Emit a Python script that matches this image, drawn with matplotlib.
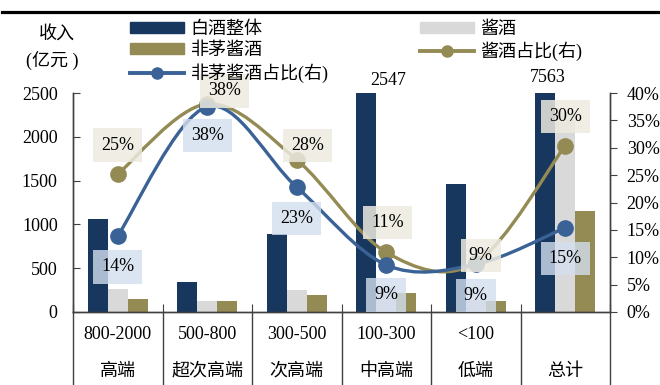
import numpy as np
import matplotlib
matplotlib.use("Agg")
import matplotlib.pyplot as plt
from matplotlib.path import Path
from matplotlib.patches import PathPatch, Patch
from matplotlib.lines import Line2D

plt.rcParams["font.family"] = ["Liberation Serif", "Noto Sans CJK SC"]
plt.rcParams["font.size"] = 13

# 价格带（元）与档位
price_bands = ["800-2000", "500-800", "300-500", "100-300", "<100", ""]
tier_names = ["高端", "超次高端", "次高端", "中高端", "低端", "总计"]

# 收入（亿元）
baijiu_total = [1060, 340, 887, 2547, 1465, 7563]
jiangjiu = [265, 130, 248, 280, 132, 2270]
non_maotai = [148, 128, 197, 215, 128, 1150]

# 占比（%）
jiang_share = [25.2, 38.0, 27.8, 10.9, 9.0, 30.4]
non_maotai_share = [13.9, 37.5, 22.8, 8.6, 8.7, 15.4]

NAVY = "#17375E"
GRAY = "#D9D9D9"
OLIVE = "#948A54"
BLUE = "#3A6296"
AXIS = "#404040"


def smooth_path(xs, ys):
    # Catmull-Rom -> cubic bezier, same as a "smoothed line" in office charts
    pts = np.column_stack([xs, ys]).astype(float)
    ext = np.vstack([pts[0], pts, pts[-1]])
    verts = [pts[0]]
    codes = [Path.MOVETO]
    for i in range(len(pts) - 1):
        p0, p1, p2, p3 = ext[i], ext[i + 1], ext[i + 2], ext[i + 3]
        verts += [p1 + (p2 - p0) / 6.0, p2 - (p3 - p1) / 6.0, p2]
        codes += [Path.CURVE4] * 3
    return Path(verts, codes)


fig = plt.figure(figsize=(6.6, 3.85), dpi=100)
ax = fig.add_axes([73 / 660, 1 - 312 / 385, 537 / 660, 219 / 385])
ax2 = ax.twinx()

x = np.arange(len(baijiu_total))
w = 0.224
ax.bar(x - w, baijiu_total, w, color=NAVY, zorder=2)
ax.bar(x, jiangjiu, w, color=GRAY, zorder=2)
ax.bar(x + w, non_maotai, w, color=OLIVE, zorder=2)

ax.set_xlim(-0.5, len(x) - 0.5)
ax.set_ylim(0, 2500)
ax.set_yticks(np.arange(0, 2501, 500))
ax2.set_ylim(0, 40)
ax2.set_yticks(np.arange(0, 41, 5))
ax2.set_yticklabels([f"{v}%" for v in range(0, 41, 5)])

for a in (ax, ax2):
    a.spines["top"].set_visible(False)
    for s in ("left", "right", "bottom"):
        a.spines[s].set_color(AXIS)
        a.spines[s].set_linewidth(1.0)
ax.tick_params(axis="y", direction="in", length=5, pad=11, color=AXIS)
ax2.tick_params(axis="y", direction="out", length=5, pad=7, color=AXIS)
ax.set_xticks(np.arange(-0.5, len(x), 1.0))
ax.tick_params(axis="x", direction="in", length=6, color=AXIS, labelbottom=False)

# 底部分类表格
xt = ax.get_xaxis_transform()
for b in np.arange(-0.5, len(x), 1.0):
    ax.plot([b, b], [0, -0.34], transform=xt, color=AXIS, lw=1.0, clip_on=False)
for i in x:
    ax.text(i, -0.105, price_bands[i], transform=xt, ha="center", va="center")
    ax.text(i, -0.27, tier_names[i], transform=xt, ha="center", va="center")

# 平滑折线
ax2.add_patch(PathPatch(smooth_path(x, jiang_share), fill=False, ec=OLIVE, lw=2.4, zorder=3))
ax2.add_patch(PathPatch(smooth_path(x, non_maotai_share), fill=False, ec=BLUE, lw=2.4, zorder=3))
ax2.plot(x, jiang_share, "o", color=OLIVE, ms=11, zorder=4)
ax2.plot(x, non_maotai_share, "o", color=BLUE, ms=11, zorder=4)

# 数据标签偏移（像素）
jiang_offsets = [(0, 29), (17, 13), (11, 14), (1, 30), (5, 7), (0, 29)]
non_maotai_offsets = [(0, -31), (0, -29), (0, -31), (0, -30), (0, -31), (0, -31)]

for i, v in enumerate(jiang_share):
    ax2.annotate(f"{v:.0f}%", (x[i], v), xytext=jiang_offsets[i], textcoords="offset pixels",
                 ha="center", va="center", zorder=6, annotation_clip=False,
                 bbox=dict(boxstyle="square,pad=0.45", fc="#EDEAE0", ec="none", alpha=0.85))
for i, v in enumerate(non_maotai_share):
    ax2.annotate(f"{v:.0f}%", (x[i], v), xytext=non_maotai_offsets[i], textcoords="offset pixels",
                 ha="center", va="center", zorder=6, annotation_clip=False,
                 bbox=dict(boxstyle="square,pad=0.45", fc="#D3DFEE", ec="none", alpha=0.8))

# 超出坐标范围的柱子标注数值
top_offsets = {3: (2, 13), 5: (-17, 16)}
for i, v in enumerate(baijiu_total):
    if v > 2500:
        dx, dy = top_offsets[i]
        ax.annotate(f"{v}", (x[i], 2500), xytext=(dx, dy), textcoords="offset pixels",
                    ha="center", va="center", annotation_clip=False)

fig.text(57 / 660, 1 - 34 / 385, "收入", ha="center", va="center")
fig.text(52 / 660, 1 - 60 / 385, "(亿元 )", ha="center", va="center")

h_total = Patch(color=NAVY)
h_jiang = Patch(color=GRAY)
h_nm = Patch(color=OLIVE)
h_jiang_share = Line2D([], [], color=OLIVE, lw=2.8, marker="o", ms=8)
h_nm_share = Line2D([], [], color=BLUE, lw=2.8, marker="o", ms=8)

leg_kw = dict(frameon=False, loc="upper left", borderpad=0, borderaxespad=0,
              handlelength=3.0, handleheight=0.55, handletextpad=0.35,
              labelspacing=0.22, fontsize=13)
fig.legend([h_total, h_nm, h_nm_share], ["白酒整体", "非茅酱酒", "非茅酱酒占比(右)"],
           bbox_to_anchor=(130 / 660, 1 - 21 / 385), **leg_kw)
fig.legend([h_jiang, h_jiang_share], ["酱酒", "酱酒占比(右)"],
           bbox_to_anchor=(420 / 660, 1 - 21 / 385), **leg_kw)

fig.add_artist(Line2D([0.003, 1.0], [1 - 12 / 385] * 2, transform=fig.transFigure,
                      color="black", lw=2.3))

fig.savefig("out.png", dpi=100)
